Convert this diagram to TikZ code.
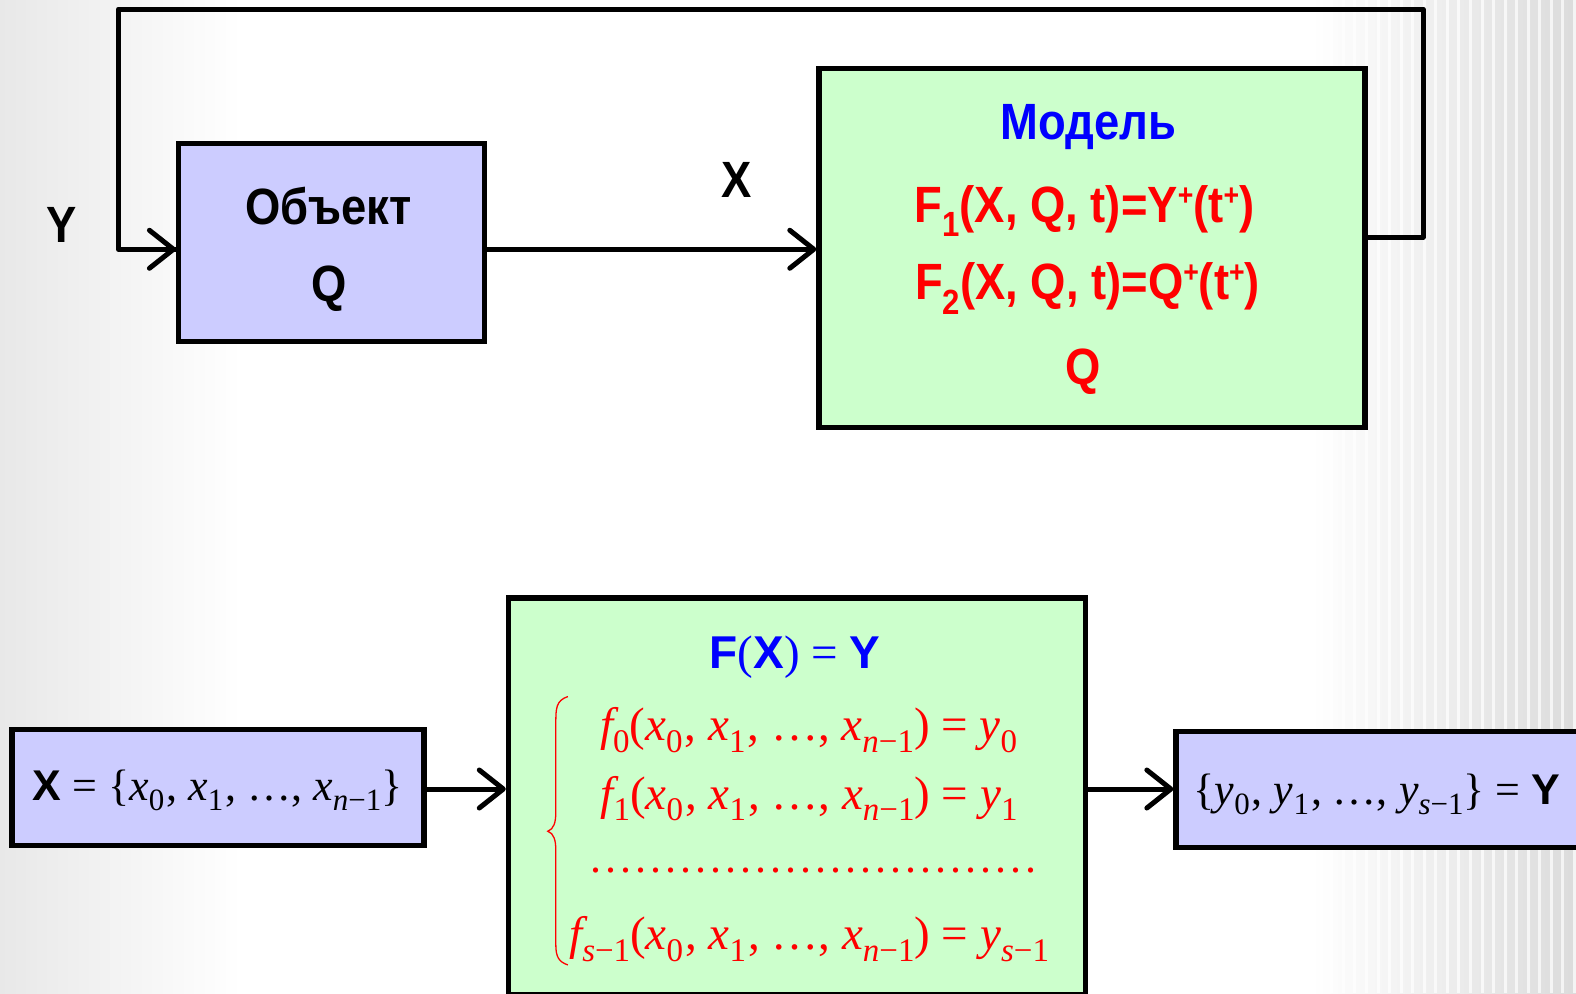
\documentclass[tikz,border=0pt]{standalone}
\usepackage{fontspec}
\usetikzlibrary{arrows.meta}
\newfontfamily\arn[FakeStretch=0.89]{Liberation Sans Bold}
\newfontfamily\arbold{Liberation Sans Bold}
\newfontfamily\tnr{Liberation Serif}
\definecolor{lilac}{HTML}{CCCCFF}
\definecolor{mint}{HTML}{CCFFCC}
\definecolor{pblue}{HTML}{0000FF}
\definecolor{pred}{HTML}{FF0000}
\newcommand\Sb[1]{\raisebox{-0.24em}{\fontsize{33}{33}\selectfont #1}}
\newcommand\Ss[1]{\raisebox{-0.24em}{\fontsize{31}{31}\selectfont #1}}
\newcommand\Sup[1]{\raisebox{17pt}{\fontsize{30}{30}\selectfont #1}}
\newcommand\Low[1]{\raisebox{-0.28em}{\fontsize{35}{35}\selectfont #1}}
\newcommand\iv[1]{{\itshape #1}}
\newcommand\dd{.\kern 4pt}
\newcommand\cm{\kern2pt,}
\begin{document}
\begin{tikzpicture}[x=1.0051pt,y=-1.0051pt,
  box/.style={draw=black, line width=5.5pt, inner sep=0pt},
  arr/.style={line width=5pt, -{Straight Barb[round,length=24pt,width=38pt]}},
  conn/.style={line width=5pt, line join=round},
  lab/.style={inner sep=0pt, font=\arn\fontsize{51}{51}\selectfont},
  eq/.style={inner sep=0pt, anchor=base, text=pred, font=\tnr\fontsize{47}{47}\selectfont},
  seteq/.style={inner sep=0pt, anchor=base, text=black, font=\tnr\fontsize{44}{44}\selectfont}]
\useasboundingbox (0,0) rectangle (1568,988);
\clip (0,0) rectangle (1568,988);
% background
\fill[white] (0,0) rectangle (1568,988);
\shade[left color=black!9, right color=white] (0,0) rectangle (240,988);
\shade[left color=white, right color=black!14] (1305,0) rectangle (1568,988);
\foreach \i in {0,...,21} \draw[white, opacity=0.7, line width=3pt] (1325+\i*11.5,0) -- (1325+\i*11.5,988);
% top part
\node[box, fill=lilac, minimum width=306pt, minimum height=198pt] (obj) at (330,241.5) {};
\node[box, fill=mint, minimum width=546pt, minimum height=359pt] (model) at (1086.5,246.5) {};
\node[lab] (objt) at (327,205) {Объект};
\node[lab] (objq) at (327,287) {Q};
\node[lab, text=pblue] (modt) at (1083,126) {Модель};
\node[lab, text=pred] (f1) at (1079,210) {F\Low{1}(X, Q, t)=Y\Sup{+}(t\Sup{+})};
\node[lab, text=pred] (f2) at (1082,287) {F\Low{2}(X, Q, t)=Q\Sup{+}(t\Sup{+})};
\node[lab, text=pred] (modq) at (1078,370) {Q};
\node[lab] (ylab) at (61,224) {Y};
\node[lab] (xlab) at (733,179) {X};
\coordinate (fbA) at (1416,236);
\coordinate (fbB) at (1416,9);
\coordinate (fbC) at (118,9);
\coordinate (fbD) at (118,248);
\draw[conn] (model.east |- fbA) -- (fbA) -- (fbB) -- (fbC) -- (fbD) -- (obj.west |- fbD);
\draw[arr] (fbD) -- (obj.west |- fbD);
\coordinate (ya) at (0,248);
\draw[arr] (obj.east |- ya) -- (model.west |- ya);
% bottom part
\node[box, fill=lilac, minimum width=412pt, minimum height=116pt] (xbox) at (217,783.5) {};
\node[box, fill=mint, minimum width=577pt, minimum height=397pt] (fbox) at (793,792.5) {};
\node[box, fill=lilac, minimum width=442pt, minimum height=116pt] (ybox) at (1390,785.5) {};
\coordinate (yb) at (0,785);
\draw[arr] (xbox.east |- yb) -- (fbox.west |- yb);
\draw[arr] (fbox.east |- yb) -- (ybox.west |- yb);
\node[seteq] (xset) at (216.5,796) {{\arbold\fontsize{43}{43}\selectfont X} = \{\iv{x}\Ss{0}\cm{} \iv{x}\Ss{1}\cm{} …, \iv{x}\Ss{\iv{n}−1}\}};
\node[seteq] (yset) at (1370,800) {\{\iv{y}\Ss{0}\cm{} \iv{y}\Ss{1}\cm{} …, \iv{y}\Ss{\iv{s}−1}\} = {\arbold\fontsize{43}{43}\selectfont Y}};
\node[eq, text=pblue] (fxy) at (791,665) {{\arbold\fontsize{46}{46}\selectfont F}({\arbold\fontsize{46}{46}\selectfont X}) = {\arbold\fontsize{46}{46}\selectfont Y}};
\node[eq] (e0) at (804.5,737) {\iv{f}\Sb{0}(\iv{x}\Sb{0}\cm{} \iv{x}\Sb{1}\cm{} …, \iv{x}\Sb{\iv{n}−1}) = \iv{y}\Sb{0}};
\node[eq] (e1) at (805,805) {\iv{f}\Sb{1}(\iv{x}\Sb{0}\cm{} \iv{x}\Sb{1}\cm{} …, \iv{x}\Sb{\iv{n}−1}) = \iv{y}\Sb{1}};
\node[eq, font=\tnr\fontsize{44}{44}\selectfont] (edots) at (809,868) {\dd\dd\dd\dd\dd\dd\dd\dd\dd\dd\dd\dd\dd\dd\dd\dd\dd\dd\dd\dd\dd\dd\dd\dd\dd\dd\dd\dd\dd.};
\node[eq] (es) at (805,945) {\iv{f}\Sb{\iv{s}−1}(\iv{x}\Sb{0}\cm{} \iv{x}\Sb{1}\cm{} …, \iv{x}\Sb{\iv{n}−1}) = \iv{y}\Sb{\iv{s}−1}};
\draw[pred, line width=1.3pt] (565,693) .. controls (553,697) and (553,705) .. (553,720) -- (553,808) .. controls (553,818) and (551,825) .. (545,827) .. controls (551,829) and (553,836) .. (553,846) -- (553,940) .. controls (553,952) and (556,957) .. (565,960);
\end{tikzpicture}
\end{document}
